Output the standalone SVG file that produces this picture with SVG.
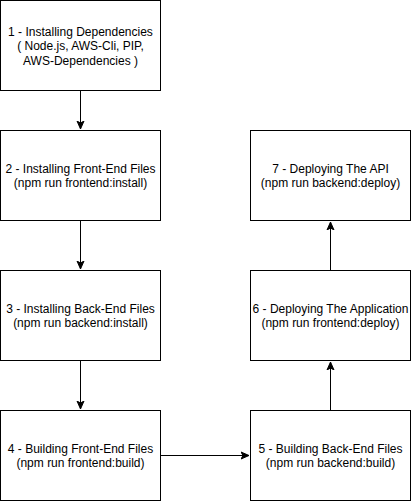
<svg xmlns="http://www.w3.org/2000/svg" width="411" height="501" viewBox="0 0 411 501">
<style>
.box{fill:#ffffff;stroke:#000000;stroke-width:1}
.t{font-family:"Liberation Sans",Arial,sans-serif;font-size:12px;fill:#000000;text-anchor:middle}
.c{fill:none;stroke:#000000;stroke-width:1}
</style>
<defs>
<marker id="arr" markerUnits="userSpaceOnUse" markerWidth="10" markerHeight="10" viewBox="0 0 10 10" refX="8" refY="5" orient="auto">
<path d="M0,1.5 L8,5 L0,8.5 L2,5 Z" fill="#000000" stroke="#000000" stroke-width="1"/>
</marker>
</defs>
<rect width="411" height="501" fill="#ffffff"/>
<g id="connectors">
<path class="c" d="M80.5,90.5 L80.5,129" marker-end="url(#arr)"/>
<path class="c" d="M80.5,220.5 L80.5,269" marker-end="url(#arr)"/>
<path class="c" d="M80.5,360.5 L80.5,409" marker-end="url(#arr)"/>
<path class="c" d="M160.5,455.5 L249,455.5" marker-end="url(#arr)"/>
<path class="c" d="M330.5,410.5 L330.5,362" marker-end="url(#arr)"/>
<path class="c" d="M330.5,270.5 L330.5,222" marker-end="url(#arr)"/>
</g>
<g id="node1">
<rect class="box" x="0.5" y="0.5" width="160" height="90"/>
<text class="t" x="80.5" y="35.5">1 - Installing Dependencies</text>
<text class="t" x="80.5" y="50">( Node.js, AWS-Cli, PIP,</text>
<text class="t" x="80.5" y="64.5">AWS-Dependencies )</text>
</g>
<g id="node2">
<rect class="box" x="0.5" y="130.5" width="160" height="90"/>
<text class="t" x="80.5" y="172.5">2 - Installing Front-End Files</text>
<text class="t" x="80.5" y="186.5">(npm run frontend:install)</text>
</g>
<g id="node3">
<rect class="box" x="0.5" y="270.5" width="160" height="90"/>
<text class="t" x="80.5" y="312.5">3 - Installing Back-End Files</text>
<text class="t" x="80.5" y="326.5">(npm run backend:install)</text>
</g>
<g id="node4">
<rect class="box" x="0.5" y="410.5" width="160" height="90"/>
<text class="t" x="80.5" y="452.5">4 - Building Front-End Files</text>
<text class="t" x="80.5" y="466.5">(npm run frontend:build)</text>
</g>
<g id="node5">
<rect class="box" x="250.5" y="410.5" width="160" height="90"/>
<text class="t" x="330.5" y="452.5">5 - Building Back-End Files</text>
<text class="t" x="330.5" y="466.5">(npm run backend:build)</text>
</g>
<g id="node6">
<rect class="box" x="250.5" y="270.5" width="160" height="90"/>
<text class="t" x="330.5" y="312.5">6 - Deploying The Application</text>
<text class="t" x="330.5" y="326.5">(npm run frontend:deploy)</text>
</g>
<g id="node7">
<rect class="box" x="250.5" y="130.5" width="160" height="90"/>
<text class="t" x="330.5" y="172.5">7 - Deploying The API</text>
<text class="t" x="330.5" y="186.5">(npm run backend:deploy)</text>
</g>
</svg>
